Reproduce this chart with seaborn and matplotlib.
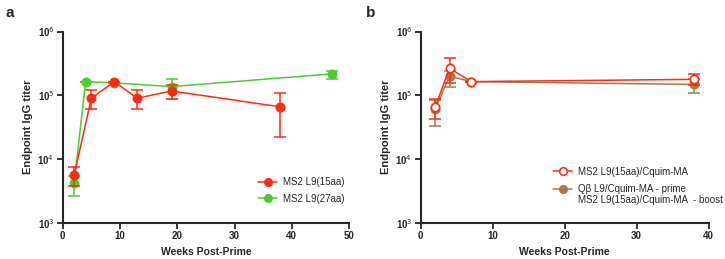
import numpy as np
import pandas as pd
import matplotlib
matplotlib.use("Agg")
import matplotlib.pyplot as plt
import seaborn as sns
from matplotlib.lines import Line2D

sns.set_style("ticks")
plt.rcParams['font.family'] = ['Liberation Sans', 'DejaVu Sans']

# painel a
weeks_a15 = [2, 5, 9, 13, 19, 38]
titer_a15 = [5600, 90000, 164000, 90000, 117000, 66000]
hi_a15 = [7600, 120000, 164000, 120000, 145000, 110000]
lo_a15 = [3800, 60000, 164000, 60000, 87000, 22500]

weeks_a27 = [2, 4, 9, 19, 47]
titer_a27 = [4150, 164000, 157000, 137000, 217000]
hi_a27 = [5500, 164000, 157000, 180000, 245000]
lo_a27 = [2600, 164000, 157000, 87000, 178000]

# painel b
weeks_b1 = [2, 4, 7, 38]
titer_b1 = [65000, 266000, 164000, 178000]
hi_b1 = [87000, 390000, 164000, 218000]
lo_b1 = [42000, 155000, 164000, 145000]

weeks_b2 = [2, 4, 7, 38]
titer_b2 = [60000, 200000, 164000, 148000]
hi_b2 = [85000, 240000, 164000, 178000]
lo_b2 = [33000, 135000, 164000, 107000]

labels_a = ['MS2 L9(15aa)', 'MS2 L9(27aa)']
labels_b = ['MS2 L9(15aa)/Cquim-MA', 'Q\u03b2 L9/Cquim-MA - prime',
            'MS2 L9(15aa)/Cquim-MA  - boost']

red = '#ff2a12'
green = '#4ccc2e'
brown = '#a47a45'

W, H = 725, 259
fig = plt.figure(figsize=(7.25, 2.59), dpi=100)
ax_a = fig.add_axes([0.0865, 0.140, 0.395, 0.738])
ax_b = fig.add_axes([0.5803, 0.140, 0.397, 0.738])


def draw(ax, x, y, hi, lo, color, face, z):
    df = pd.DataFrame({'x': x, 'y': y})
    sns.lineplot(data=df, x='x', y='y', ax=ax, color=color, lw=1.1,
                 marker='o', markersize=6, markerfacecolor=face,
                 markeredgecolor=color, markeredgewidth=1.2, zorder=z)
    y = np.array(y)
    err = [y - np.array(lo), np.array(hi) - y]
    ax.errorbar(x, y, yerr=err, fmt='none', ecolor=color, elinewidth=1.1,
                capsize=4, capthick=1.1, zorder=z - 0.5)


draw(ax_a, weeks_a27, titer_a27, hi_a27, lo_a27, green, green, 3)
draw(ax_a, weeks_a15, titer_a15, hi_a15, lo_a15, red, red, 4)
draw(ax_b, weeks_b2, titer_b2, hi_b2, lo_b2, brown, brown, 3)
draw(ax_b, weeks_b1, titer_b1, hi_b1, lo_b1, red, 'white', 4)

for ax, xmax in [(ax_a, 50), (ax_b, 40)]:
    ax.set_yscale('log')
    ax.set_ylim(1e3, 1e6)
    ax.set_xlim(0, xmax)
    ax.set_xticks(np.arange(0, xmax + 1, 10))
    ax.set_yticks([1e3, 1e4, 1e5, 1e6])
    ax.yaxis.set_minor_locator(matplotlib.ticker.NullLocator())
    ax.set_yticklabels(['10$^3$', '10$^4$', '10$^5$', '10$^6$'])
    ax.tick_params(axis='both', labelsize=7, width=1.3, length=4, direction='out', pad=2)
    for lab in ax.get_xticklabels() + ax.get_yticklabels():
        lab.set_fontweight('bold')
    for s in ['left', 'bottom']:
        ax.spines[s].set_linewidth(1.5)
    sns.despine(ax=ax)
    ax.set_xlabel('Weeks Post-Prime', fontsize=7.5, fontweight='bold', labelpad=4)
    ax.set_ylabel('Endpoint IgG titer', fontsize=8, fontweight='bold', labelpad=3)

h_a = [Line2D([], [], color=red, marker='o', markersize=5.5, lw=1.1),
       Line2D([], [], color=green, marker='o', markersize=5.5, lw=1.1)]
fig.legend(h_a, labels_a, loc='center left',
           bbox_to_anchor=(258 / W, 1 - 190.5 / H), frameon=False, fontsize=7,
           handlelength=2.0, handletextpad=0.55, labelspacing=0.65,
           borderpad=0, borderaxespad=0)

h_b = [Line2D([], [], color=red, marker='o', markersize=5.5, lw=1.1,
              markerfacecolor='white', markeredgewidth=1.1),
       Line2D([], [], color=brown, marker='o', markersize=5.5, lw=1.1)]
leg_b = fig.legend(h_b, labels_b[:2], loc='center left',
                   bbox_to_anchor=(553 / W, 1 - 180.5 / H), frameon=False,
                   fontsize=7, handlelength=2.0, handletextpad=0.55,
                   labelspacing=0.75, borderpad=0, borderaxespad=0)

# segunda linha do rótulo, alinhada com o texto da legenda
fig.canvas.draw()
bb = leg_b.get_texts()[1].get_window_extent()
x0 = bb.x0 / W
y_line = (bb.y0 + bb.y1) / 2 / H - 11 / H
fig.text(x0, y_line, labels_b[2], fontsize=7, va='center', ha='left')

fig.text(0.008, 0.95, 'a', fontsize=11, fontweight='bold', va='center')
fig.text(0.505, 0.95, 'b', fontsize=11, fontweight='bold', va='center')

fig.savefig('out.png', dpi=100)
